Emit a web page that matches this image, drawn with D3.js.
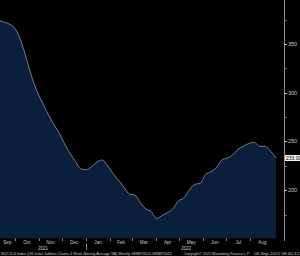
<!DOCTYPE html>
<html>
<head>
<meta charset="utf-8">
<script src="https://cdn.jsdelivr.net/npm/d3@7"></script>
<style>
  body { margin: 0; background: #000; }
  svg { display: block; }
</style>
</head>
<body>
<svg id="chart" width="300" height="256"></svg>
<script>
// weekly 4-week moving average of initial jobless claims (thousands)
const firstWeek = "2021-09-11";
const claims = [374, 372, 370, 365, 353, 335, 316, 301, 289, 278, 268, 259,
                248, 238, 230, 222, 221, 224, 229, 231, 225, 217, 210, 203,
                196, 195, 187, 181, 178, 171, 174, 177, 181, 189, 192, 200,
                206, 207, 216, 219, 223, 231, 233, 236, 242, 245, 248, 249,
                245, 245, 240, 233];
const yTicks = [200, 250, 300, 350];
const yMinor = [175, 225, 275, 325, 375];
const months = ["Sep", "Oct", "Nov", "Dec", "Jan", "Feb", "Mar", "Apr", "May", "Jun", "Jul", "Aug"];
const years = ["2021", "2022"];
const lastLabel = "233.00";
const footLeft = "INJCJC4 Index (US Initial Jobless Claims 4 Week Moving Average SA)  Weekly 08SEP2021-08SEP2022";
const footMid = "Copyright\u00a9 2022 Bloomberg Finance L.P.";
const footRight = "08-Sep-2022 08:40:12";

const svg = d3.select('#chart');
const dims = { plotRight: 284, plotBottom: 238.5 };

const parse = d3.utcParse("%Y-%m-%d");
const start = parse(firstWeek);
const points = claims.map((v, i) => ({ date: d3.utcDay.offset(start, 7 * i), value: v }));

const x = d3.scaleUtc()
    .domain([parse("2021-09-12"), parse("2022-09-12")])
    .range([0, dims.plotRight - 1]);

const y = d3.scaleLinear()
    .domain([150, 395])
    .range([239, 0]);

svg.append('rect')
    .attr('width', 300).attr('height', 256)
    .attr('fill', '#000');

svg.append('clipPath').attr('id', 'plot-clip')
  .append('rect')
    .attr('x', 0).attr('y', 0)
    .attr('width', dims.plotRight).attr('height', dims.plotBottom);

const plot = svg.append('g').attr('clip-path', 'url(#plot-clip)');

const area = d3.area()
    .x(d => x(d.date))
    .y0(dims.plotBottom)
    .y1(d => y(d.value))
    .curve(d3.curveMonotoneX);

plot.append('path')
    .datum(points)
    .attr('d', area)
    .attr('fill', '#0a1f3b');

const line = d3.line()
    .x(d => x(d.date))
    .y(d => y(d.value))
    .curve(d3.curveMonotoneX);

plot.append('path')
    .datum(points)
    .attr('d', line)
    .attr('fill', 'none')
    .attr('stroke', '#8f9caa')
    .attr('stroke-width', 0.8);

// right axis
const axisG = svg.append('g');
axisG.append('line')
    .attr('x1', dims.plotRight + 0.5).attr('x2', dims.plotRight + 0.5)
    .attr('y1', 0).attr('y2', 241)
    .attr('stroke', '#8c8c8c').attr('stroke-width', 1);

axisG.selectAll('.minor')
  .data(yMinor)
  .join('line')
    .attr('x1', dims.plotRight).attr('x2', dims.plotRight + 2.5)
    .attr('y1', d => Math.round(y(d)) + 0.5).attr('y2', d => Math.round(y(d)) + 0.5)
    .attr('stroke', '#8c8c8c');

axisG.selectAll('.major')
  .data(yTicks)
  .join('line')
    .attr('x1', dims.plotRight).attr('x2', dims.plotRight + 3)
    .attr('y1', d => Math.round(y(d)) + 0.5).attr('y2', d => Math.round(y(d)) + 0.5)
    .attr('stroke', '#bbbbbb');

axisG.selectAll('text')
  .data(yTicks)
  .join('text')
    .attr('x', dims.plotRight + 4)
    .attr('y', d => y(d))
    .attr('dy', '0.35em')
    .attr('font-family', 'Liberation Sans, Arial, sans-serif')
    .attr('font-size', 5.5)
    .attr('fill', '#c8c8c8')
    .text(d => d);

// last value tag
const last = points[points.length - 1];
svg.append('rect')
    .attr('x', dims.plotRight + 1).attr('y', y(last.value) - 3)
    .attr('width', 16).attr('height', 6)
    .attr('fill', '#f2f2f2');
svg.append('text')
    .attr('x', dims.plotRight + 2).attr('y', y(last.value))
    .attr('dy', '0.35em')
    .attr('font-family', 'Liberation Sans, Arial, sans-serif')
    .attr('font-size', 5)
    .attr('fill', '#000')
    .text(lastLabel);

// bottom axis: month ticks and labels
const monthStarts = d3.utcMonth.range(parse("2021-09-01"), parse("2022-09-01"));
const xMax = x(last.date);
const bottom = svg.append('g');

bottom.selectAll('line.mt')
  .data(monthStarts.slice(1))
  .join('line')
    .attr('x1', d => Math.round(x(d)) + 0.5).attr('x2', d => Math.round(x(d)) + 0.5)
    .attr('y1', dims.plotBottom).attr('y2', dims.plotBottom + 2.5)
    .attr('stroke', '#8c8c8c');

bottom.selectAll('text.month')
  .data(monthStarts)
  .join('text')
    .attr('x', (d, i) => {
      const a = Math.max(0, x(d));
      const b = Math.min(xMax, x(d3.utcMonth.offset(d, 1)));
      return (a + b) / 2;
    })
    .attr('y', 243.5)
    .attr('text-anchor', 'middle')
    .attr('font-family', 'Liberation Sans, Arial, sans-serif')
    .attr('font-size', 4.6)
    .attr('fill', '#c8c8c8')
    .text((d, i) => months[i]);

const yearBreak = parse("2022-01-01");
bottom.append('line')
    .attr('x1', Math.round(x(yearBreak)) + 0.5).attr('x2', Math.round(x(yearBreak)) + 0.5)
    .attr('y1', 244).attr('y2', 250)
    .attr('stroke', '#8c8c8c');

bottom.selectAll('text.year')
  .data(years)
  .join('text')
    .attr('x', (d, i) => i === 0 ? x(yearBreak) / 2 : (x(yearBreak) + xMax) / 2 + 5)
    .attr('y', 249.5)
    .attr('text-anchor', 'middle')
    .attr('font-family', 'Liberation Sans, Arial, sans-serif')
    .attr('font-size', 4.6)
    .attr('fill', '#c8c8c8')
    .text(d => d);

// footer, squeezed to the widths seen in the reference
const foot = svg.append('g')
    .attr('font-family', 'Liberation Sans Narrow, Liberation Sans, Arial, sans-serif')
    .attr('font-size', 4)
    .attr('fill', '#c8c8c8');
foot.append('text').attr('x', 1).attr('y', 255)
    .attr('textLength', 171).attr('lengthAdjust', 'spacingAndGlyphs')
    .text(footLeft);
foot.append('text').attr('x', 184).attr('y', 255)
    .attr('textLength', 66).attr('lengthAdjust', 'spacingAndGlyphs')
    .text(footMid);
foot.append('text').attr('x', 254).attr('y', 255)
    .attr('textLength', 45).attr('lengthAdjust', 'spacingAndGlyphs')
    .text(footRight);
</script>
</body>
</html>
